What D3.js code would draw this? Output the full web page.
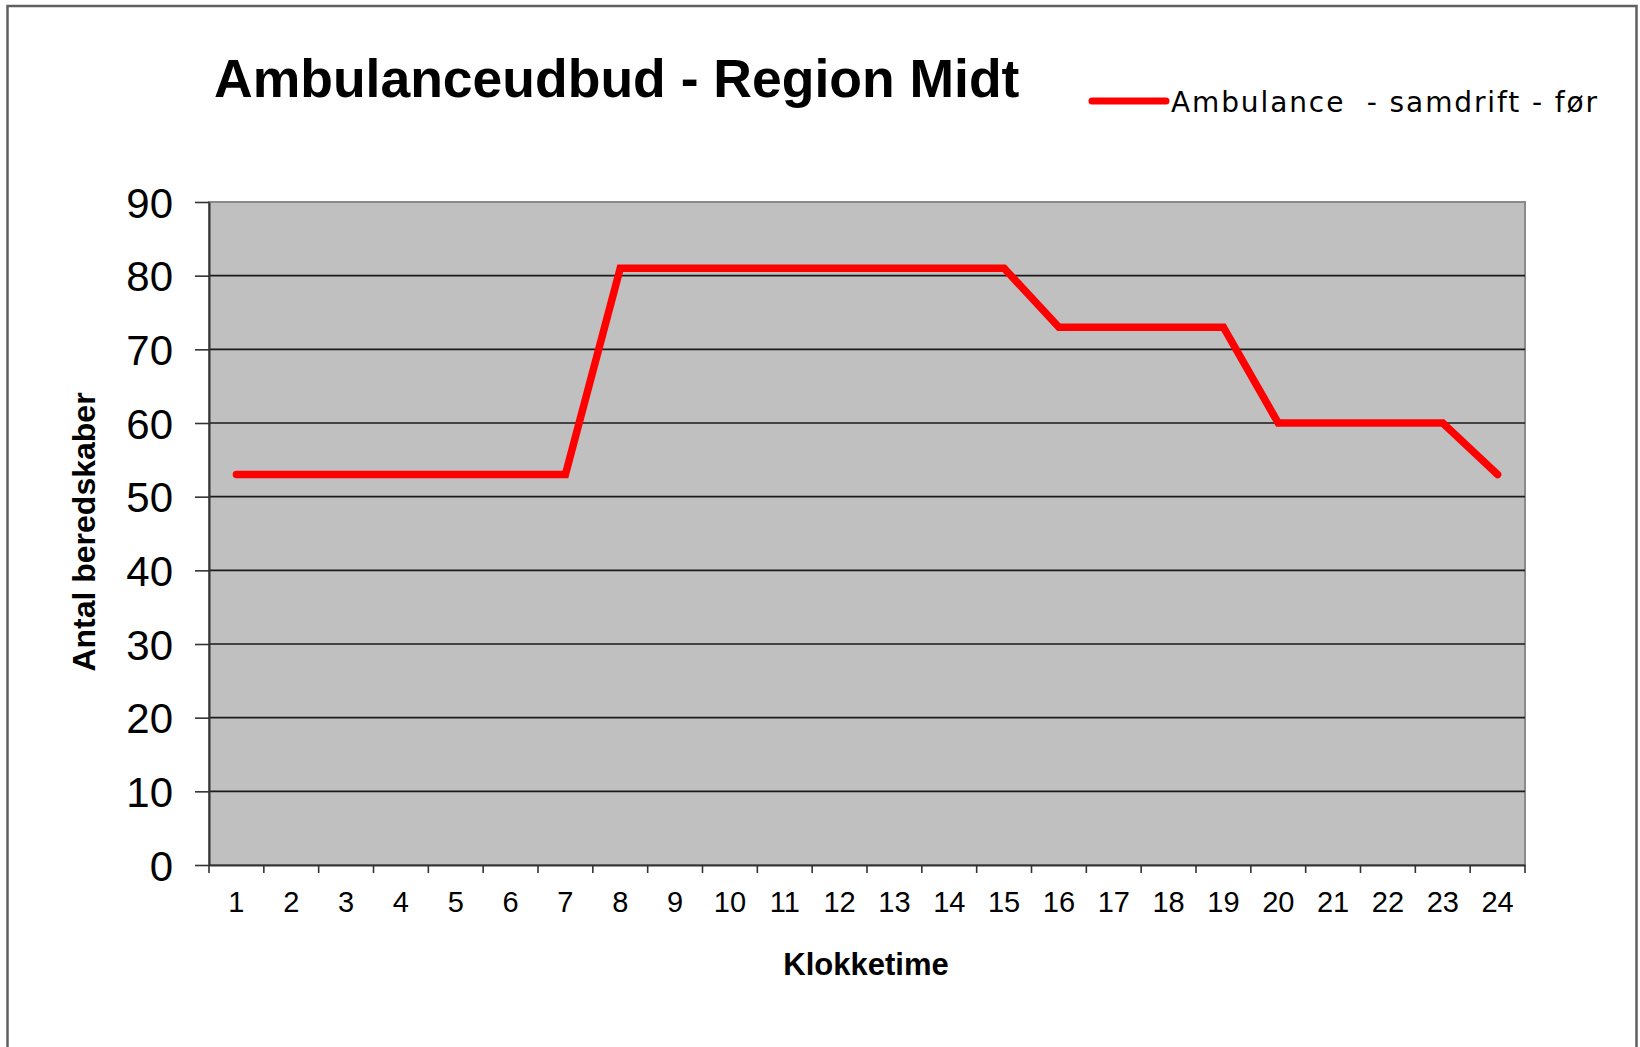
<!DOCTYPE html>
<html>
<head>
<meta charset="utf-8">
<script src="https://cdn.jsdelivr.net/npm/d3@7"></script>
<style>
    body { margin: 0; background: #fff; }
    svg { display: block; }
</style>
</head>
<body>
<div id="vis"></div>
<script>
'use strict';

// Data
const hours = ["1", "2", "3", "4", "5", "6", "7", "8", "9", "10", "11", "12",
    "13", "14", "15", "16", "17", "18", "19", "20", "21", "22", "23", "24"];
const ambulances = [53, 53, 53, 53, 53, 53, 53, 81, 81, 81, 81, 81,
    81, 81, 81, 73, 73, 73, 73, 60, 60, 60, 60, 53];
const yTicks = [0, 10, 20, 30, 40, 50, 60, 70, 80, 90];

const titleText = "Ambulanceudbud - Region Midt";
const seriesName = "Ambulance  - samdrift - før";

// Layout of the page
const constraints = {
    width: 1640,
    height: 1047,
    plot: {left: 209, right: 1525, top: 202, bottom: 865}
};

let svg = d3.select("#vis").append("svg")
    .attr("width", constraints.width)
    .attr("height", constraints.height);

// outer frame
svg.append("rect")
    .attr("x", 7.5)
    .attr("y", 6)
    .attr("width", 1629)
    .attr("height", 1060)
    .attr("fill", "#fff")
    .attr("stroke", "#606060")
    .attr("stroke-width", 2.5);

const p = constraints.plot;

let x = d3.scaleBand()
    .domain(hours)
    .range([p.left, p.right])
    .padding(0);

let y = d3.scaleLinear()
    .domain([0, 90])
    .range([p.bottom, p.top]);

// plot background
svg.append("rect")
    .attr("x", p.left)
    .attr("y", p.top)
    .attr("width", p.right - p.left)
    .attr("height", p.bottom - p.top)
    .attr("fill", "#c0c0c0")
    .attr("stroke", "#8a8a8a")
    .attr("stroke-width", 2);

// grid lines
svg.append("g")
    .selectAll("line")
    .data(yTicks.filter((d) => d > 0 && d < 90))
    .enter()
    .append("line")
        .attr("x1", p.left)
        .attr("x2", p.right)
        .attr("y1", (d) => y(d))
        .attr("y2", (d) => y(d))
        .attr("stroke", "#1a1a1a")
        .attr("stroke-width", 1.6);

// y axis
let yAxis = svg.append("g")
    .attr("transform", "translate(" + p.left + ",0)")
    .call(d3.axisLeft(y).tickValues(yTicks).tickSize(14).tickPadding(22).tickSizeOuter(0));
yAxis.select(".domain").attr("stroke", "#333").attr("stroke-width", 2);
yAxis.selectAll(".tick line").attr("stroke", "#333").attr("stroke-width", 1.6);
yAxis.selectAll(".tick text")
    .attr("fill", "#000")
    .style("font-family", "'Liberation Sans', Arial, sans-serif")
    .style("font-size", "42px")
    .attr("dy", "0.36em");

// x axis: labels at band centers, tick marks at band edges
let xAxis = svg.append("g")
    .attr("transform", "translate(0," + p.bottom + ")")
    .call(d3.axisBottom(x).tickSize(0).tickPadding(26).tickSizeOuter(0));
xAxis.select(".domain").attr("stroke", "#333").attr("stroke-width", 2);
xAxis.selectAll(".tick text")
    .attr("fill", "#000")
    .style("font-family", "'Liberation Sans', Arial, sans-serif")
    .style("font-size", "29px");

let edges = hours.map((d) => x(d)).concat([x(hours[hours.length - 1]) + x.bandwidth()]);
xAxis.selectAll(".edge")
    .data(edges)
    .enter()
    .append("line")
        .attr("class", "edge")
        .attr("x1", (d) => d)
        .attr("x2", (d) => d)
        .attr("y1", 0)
        .attr("y2", 8)
        .attr("stroke", "#333")
        .attr("stroke-width", 1.6);

// the series
let line = d3.line()
    .x((d, i) => x(hours[i]) + x.bandwidth() / 2)
    .y((d) => y(d));

svg.append("path")
    .datum(ambulances)
    .attr("d", line)
    .attr("fill", "none")
    .attr("stroke", "#ff0000")
    .attr("stroke-width", 7.5)
    .attr("stroke-linejoin", "miter")
    .attr("stroke-linecap", "round");

// title
svg.append("text")
    .attr("x", 214)
    .attr("y", 97)
    .style("font-family", "'Liberation Sans', Arial, sans-serif")
    .style("font-weight", "bold")
    .style("font-size", "53.5px")
    .text(titleText);

// legend
svg.append("line")
    .attr("x1", 1092)
    .attr("x2", 1166)
    .attr("y1", 101)
    .attr("y2", 101)
    .attr("stroke", "#ff0000")
    .attr("stroke-width", 7)
    .attr("stroke-linecap", "round");
svg.append("text")
    .attr("x", 1171)
    .attr("y", 112)
    .attr("textLength", 426)
    .attr("lengthAdjust", "spacing")
    .style("font-family", "'DejaVu Sans', Verdana, sans-serif")
    .style("font-size", "28px")
    .style("white-space", "pre")
    .text(seriesName);

// axis labels
svg.append("text")
    .attr("x", 866)
    .attr("y", 975)
    .attr("text-anchor", "middle")
    .style("font-family", "'Liberation Sans', Arial, sans-serif")
    .style("font-weight", "bold")
    .style("font-size", "31px")
    .text("Klokketime");

svg.append("text")
    .attr("transform", "translate(95,532)rotate(-90)")
    .attr("text-anchor", "middle")
    .style("font-family", "'Liberation Sans', Arial, sans-serif")
    .style("font-weight", "bold")
    .style("font-size", "32px")
    .text("Antal beredskaber");
</script>
</body>
</html>
